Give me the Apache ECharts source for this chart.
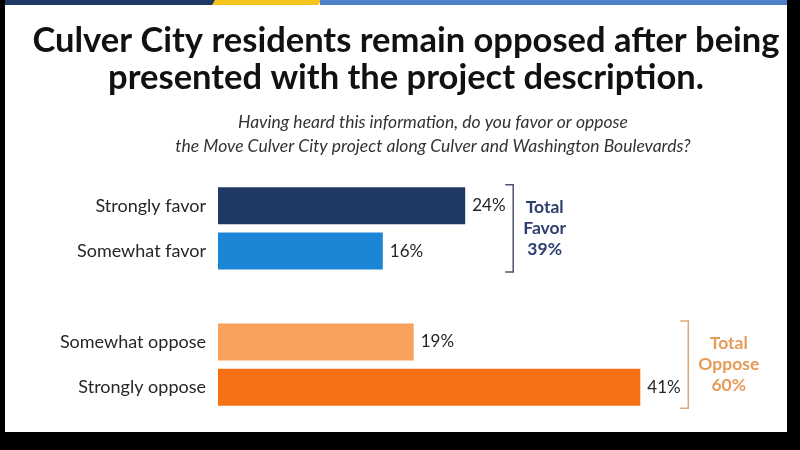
<!DOCTYPE html>
<html>
<head>
<meta charset="utf-8">
<script src="https://cdn.jsdelivr.net/npm/echarts@6/dist/echarts.min.js"></script>
<style>
html, body { margin: 0; padding: 0; background: #fff; }
#chart { width: 800px; height: 450px; }
</style>
</head>
<body>
<div id="chart"></div>
<script>
// data
var categories = ['Strongly favor', 'Somewhat favor', '', 'Somewhat oppose', 'Strongly oppose'];
var values = [24, 16, null, 19, 41];
var barColors = ['#1f3864', '#1c86d6', null, '#f9a25d', '#f57113'];
var groupNames = ['Total\nFavor', 'Total\nOppose'];
var groupTotals = [39, 60];
var groupRows = [[0, 1], [3, 4]];
var groupColors = ['#2e3f6e', '#e59c58'];
var bracketColors = ['#4a5470', '#dca575'];

var FONT = 'Lato, "Open Sans", sans-serif';

var myChart = echarts.init(document.getElementById('chart'));

var barData = [];
for (var i = 0; i < values.length; i++) {
	barData.push({ value: values[i], itemStyle: { color: barColors[i] } });
}

// frame and top stripe
var frame = [
	{ type: 'rect', shape: { x: 0, y: 0, width: 217, height: 5 }, style: { fill: '#1f3864' } },
	{ type: 'polygon', shape: { points: [[215, 0], [322, 0], [318, 5], [212, 5]] }, style: { fill: '#f6c21c' } },
	{ type: 'rect', shape: { x: 320, y: 0, width: 480, height: 5 }, style: { fill: '#4f7fc8' } },
	{ type: 'rect', shape: { x: 0, y: 0, width: 5, height: 450 }, style: { fill: '#000' } },
	{ type: 'rect', shape: { x: 787, y: 0, width: 13, height: 450 }, style: { fill: '#000' } },
	{ type: 'rect', shape: { x: 0, y: 432, width: 800, height: 18 }, style: { fill: '#000' } }
];

option = {
	backgroundColor: '#fff',
	animation: false,
	title: [{
		text: 'Culver City residents remain opposed after being\npresented with the project description.',
		left: 401,
		textAlign: 'center',
		top: 17,
		textStyle: { fontFamily: FONT, fontSize: 34.5, fontWeight: 'bold', color: '#111', lineHeight: 37 }
	}, {
		text: 'Having heard this information, do you favor or oppose\nthe Move Culver City project along Culver and Washington Boulevards?',
		left: 428,
		textAlign: 'center',
		top: 105,
		textStyle: { fontFamily: FONT, fontSize: 17.5, fontStyle: 'italic', fontWeight: 'normal', color: '#333', lineHeight: 24 }
	}],
	grid: { left: 218, right: 67, top: 183, bottom: 40 },
	xAxis: { type: 'value', min: 0, max: 50, show: false },
	yAxis: {
		type: 'category',
		data: categories,
		inverse: true,
		axisLine: { show: false },
		axisTick: { show: false },
		axisLabel: { fontFamily: FONT, fontSize: 18, color: '#262626', margin: 12 }
	},
	series: [{
		type: 'bar',
		data: barData,
		barWidth: 37,
		label: {
			show: true,
			position: 'right',
			distance: 7,
			formatter: '{c}%',
			fontFamily: FONT,
			fontSize: 17,
			color: '#262626'
		}
	}],
	graphic: frame
};

myChart.setOption(option);

// brackets with totals, placed from the bars
var ctx = document.createElement('canvas').getContext('2d');
ctx.font = 'bold 17.5px ' + FONT;
var extra = [];
for (var g = 0; g < groupRows.length; g++) {
	var rows = groupRows[g];
	var maxV = 0;
	for (var r = 0; r < rows.length; r++) maxV = Math.max(maxV, values[rows[r]]);
	var pTop = myChart.convertToPixel({ gridIndex: 0 }, [maxV, rows[0]]);
	var pBot = myChart.convertToPixel({ gridIndex: 0 }, [maxV, rows[rows.length - 1]]);
	var bx = pTop[0] + 48;
	var y1 = pTop[1] - 21, y2 = pBot[1] + 21;
	extra.push({
		type: 'polyline',
		shape: { points: [[bx - 8, y1], [bx, y1], [bx, y2], [bx - 8, y2]] },
		style: { stroke: bracketColors[g], lineWidth: 1.5, fill: null }
	});
	var lines = (groupNames[g] + '\n' + groupTotals[g] + '%').split('\n');
	var w = 0;
	for (var k = 0; k < lines.length; k++) w = Math.max(w, ctx.measureText(lines[k]).width);
	extra.push({
		type: 'text',
		x: bx + 10 + w / 2,
		y: (y1 + y2) / 2,
		style: {
			text: lines.join('\n'),
			align: 'center',
			verticalAlign: 'middle',
			fontFamily: FONT,
			fontSize: 17.5,
			fontWeight: 'bold',
			lineHeight: 21,
			fill: groupColors[g]
		}
	});
}
myChart.setOption({ graphic: frame.concat(extra) });
</script>
</body>
</html>
